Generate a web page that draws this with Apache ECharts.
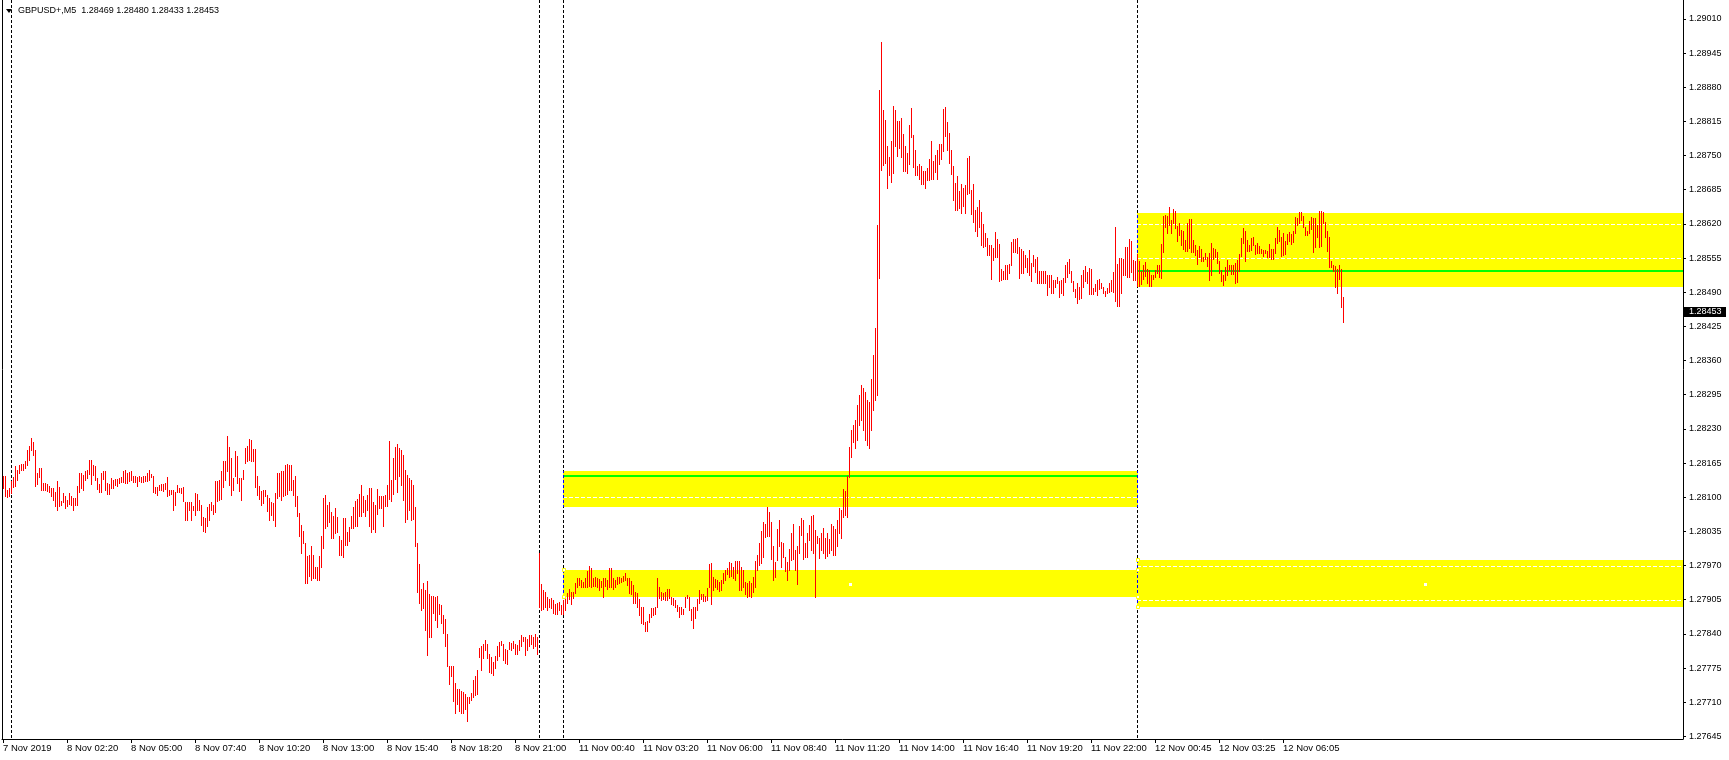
<!DOCTYPE html>
<html><head><meta charset="utf-8">
<script src="https://cdn.jsdelivr.net/npm/echarts@6/dist/echarts.min.js"></script>
<style>html,body{margin:0;padding:0;background:#fff;}#c{width:1729px;height:760px;}</style>
</head><body><div id="c"></div>
<script>
const symbolTitle = 'GBPUSD+,M5';
const lastBarOHLC = ['1.28469', '1.28480', '1.28433', '1.28453'];
const lastPrice = 1.28453;

const highs = [
1.28141,1.28141,1.28114,1.28118,1.28131,1.28138,1.28159,1.28151,1.28162,1.28164,
1.28164,1.28168,1.28190,1.28198,1.28213,1.28206,1.28190,1.28146,1.28156,1.28155,
1.28128,1.28128,1.28126,1.28122,1.28118,1.28118,1.28109,1.28131,1.28120,1.28093,
1.28108,1.28103,1.28095,1.28108,1.28103,1.28099,1.28098,1.28122,1.28147,1.28147,
1.28142,1.28149,1.28152,1.28170,1.28171,1.28162,1.28159,1.28137,1.28126,1.28147,
1.28149,1.28149,1.28127,1.28126,1.28137,1.28133,1.28135,1.28135,1.28137,1.28138,
1.28149,1.28152,1.28147,1.28148,1.28150,1.28140,1.28140,1.28138,1.28141,1.28138,
1.28140,1.28141,1.28146,1.28151,1.28145,1.28140,1.28119,1.28119,1.28123,1.28126,
1.28126,1.28128,1.28139,1.28114,1.28114,1.28114,1.28110,1.28123,1.28118,1.28118,
1.28120,1.28091,1.28091,1.28091,1.28091,1.28084,1.28108,1.28107,1.28094,1.28085,
1.28062,1.28061,1.28081,1.28088,1.28091,1.28086,1.28130,1.28131,1.28133,1.28149,
1.28169,1.28169,1.28217,1.28195,1.28175,1.28137,1.28187,1.28178,1.28136,1.28137,
1.28152,1.28194,1.28197,1.28211,1.28208,1.28192,1.28192,1.28140,1.28122,1.28112,
1.28113,1.28114,1.28105,1.28098,1.28090,1.28089,1.28108,1.28147,1.28146,1.28149,
1.28150,1.28162,1.28164,1.28162,1.28162,1.28132,1.28140,1.28103,1.28070,1.28047,
1.28036,1.28013,1.27989,1.27990,1.28008,1.27991,1.27968,1.27968,1.27989,1.28026,
1.28099,1.28105,1.28085,1.28091,1.28071,1.28064,1.28080,1.28062,1.28026,1.28019,
1.28060,1.28060,1.28034,1.28043,1.28064,1.28081,1.28093,1.28097,1.28107,1.28124,
1.28102,1.28094,1.28104,1.28117,1.28117,1.28091,1.28086,1.28116,1.28102,1.28103,
1.28103,1.28104,1.28123,1.28207,1.28133,1.28175,1.28195,1.28202,1.28194,1.28190,
1.28181,1.28152,1.28143,1.28137,1.28133,1.28124,1.28081,1.28013,1.27972,1.27925,
1.27936,1.27924,1.27940,1.27915,1.27913,1.27913,1.27911,1.27913,1.27897,1.27894,
1.27875,1.27868,1.27839,1.27778,1.27778,1.27778,1.27747,1.27736,1.27735,1.27731,
1.27729,1.27726,1.27719,1.27720,1.27728,1.27753,1.27759,1.27772,1.27814,1.27816,
1.27821,1.27829,1.27821,1.27802,1.27796,1.27786,1.27797,1.27816,1.27824,1.27826,
1.27820,1.27811,1.27810,1.27824,1.27823,1.27826,1.27820,1.27818,1.27828,1.27837,
1.27835,1.27834,1.27830,1.27837,1.27837,1.27834,1.27840,1.27835,1.27993,1.27934,
1.27924,1.27919,1.27910,1.27906,1.27908,1.27904,1.27897,1.27899,1.27900,1.27894,
1.27905,1.27911,1.27918,1.27925,1.27919,1.27920,1.27937,1.27946,1.27947,1.27943,
1.27938,1.27946,1.27960,1.27970,1.27965,1.27947,1.27948,1.27946,1.27944,1.27941,
1.27947,1.27946,1.27943,1.27965,1.27965,1.27946,1.27943,1.27948,1.27949,1.27947,
1.27951,1.27955,1.27946,1.27946,1.27941,1.27933,1.27919,1.27918,1.27906,1.27892,
1.27891,1.27863,1.27864,1.27878,1.27889,1.27890,1.27892,1.27946,1.27929,1.27919,
1.27918,1.27919,1.27925,1.27925,1.27910,1.27909,1.27905,1.27895,1.27892,1.27892,
1.27887,1.27911,1.27914,1.27910,1.27888,1.27892,1.27891,1.27906,1.27924,1.27916,
1.27915,1.27913,1.27927,1.27972,1.27974,1.27948,1.27944,1.27943,1.27939,1.27943,
1.27956,1.27962,1.27965,1.27976,1.27974,1.27968,1.27979,1.27979,1.27979,1.27967,
1.27962,1.27939,1.27937,1.27941,1.27937,1.27949,1.27979,1.27991,1.28012,1.28036,
1.28053,1.28050,1.28081,1.28072,1.28052,1.28008,1.27977,1.28039,1.28057,1.28015,
1.28013,1.27987,1.27977,1.28001,1.28032,1.28050,1.27999,1.28007,1.28045,1.28060,
1.28056,1.28013,1.28031,1.28047,1.28065,1.28066,1.28038,1.28027,1.28022,1.28032,
1.28042,1.28022,1.28032,1.28020,1.28050,1.28045,1.28039,1.28057,1.28080,1.28076,
1.28116,1.28111,1.28141,1.28196,1.28228,1.28238,1.28247,1.28276,1.28295,1.28314,
1.28308,1.28301,1.28285,1.28282,1.28324,1.28371,1.28422,1.28618,1.28875,1.28967,
1.28837,1.28818,1.28768,1.28748,1.28778,1.28845,1.28837,1.28816,1.28816,1.28822,
1.28791,1.28768,1.28755,1.28808,1.28841,1.28789,1.28761,1.28730,1.28734,1.28730,
1.28721,1.28721,1.28727,1.28744,1.28778,1.28740,1.28751,1.28761,1.28772,1.28772,
1.28839,1.28843,1.28814,1.28793,1.28761,1.28730,1.28698,1.28711,1.28683,1.28696,
1.28689,1.28694,1.28746,1.28749,1.28685,1.28696,1.28647,1.28652,1.28666,1.28643,
1.28620,1.28603,1.28594,1.28580,1.28580,1.28575,1.28605,1.28592,1.28582,1.28535,
1.28531,1.28542,1.28542,1.28544,1.28586,1.28592,1.28592,1.28594,1.28576,1.28573,
1.28569,1.28561,1.28556,1.28571,1.28546,1.28561,1.28554,1.28557,1.28531,1.28531,
1.28531,1.28531,1.28523,1.28523,1.28523,1.28514,1.28514,1.28519,1.28512,1.28514,
1.28517,1.28542,1.28548,1.28554,1.28531,1.28512,1.28497,1.28508,1.28500,1.28523,
1.28533,1.28540,1.28529,1.28536,1.28535,1.28498,1.28506,1.28514,1.28516,1.28508,
1.28500,1.28493,1.28498,1.28507,1.28514,1.28529,1.28614,1.28544,1.28556,1.28556,
1.28554,1.28576,1.28576,1.28592,1.28588,1.28552,1.28550,1.28563,1.28550,1.28531,
1.28542,1.28548,1.28535,1.28533,1.28523,1.28523,1.28533,1.28542,1.28542,1.28582,
1.28635,1.28637,1.28635,1.28652,1.28628,1.28649,1.28645,1.28616,1.28622,1.28609,
1.28607,1.28590,1.28622,1.28630,1.28630,1.28590,1.28580,1.28571,1.28578,1.28573,
1.28557,1.28565,1.28557,1.28565,1.28584,1.28575,1.28573,1.28567,1.28550,1.28533,
1.28523,1.28538,1.28552,1.28542,1.28542,1.28542,1.28546,1.28552,1.28563,1.28594,
1.28613,1.28607,1.28590,1.28580,1.28594,1.28595,1.28580,1.28584,1.28578,1.28573,
1.28571,1.28571,1.28569,1.28582,1.28573,1.28573,1.28594,1.28614,1.28609,1.28595,
1.28603,1.28588,1.28601,1.28605,1.28601,1.28607,1.28633,1.28632,1.28643,1.28643,
1.28635,1.28614,1.28607,1.28626,1.28633,1.28632,1.28632,1.28618,1.28645,1.28645,
1.28643,1.28624,1.28607,1.28595,1.28550,1.28542,1.28540,1.28535,1.28542,1.28535,
1.28480];

const lows = [
1.28117,1.28102,1.28100,1.28102,1.28108,1.28119,1.28122,1.28133,1.28146,1.28151,
1.28152,1.28155,1.28162,1.28170,1.28190,1.28181,1.28122,1.28126,1.28138,1.28114,
1.28113,1.28114,1.28112,1.28109,1.28103,1.28095,1.28084,1.28075,1.28084,1.28085,
1.28090,1.28079,1.28084,1.28088,1.28086,1.28076,1.28085,1.28085,1.28110,1.28118,
1.28114,1.28133,1.28137,1.28145,1.28126,1.28142,1.28133,1.28116,1.28110,1.28110,
1.28135,1.28114,1.28107,1.28107,1.28118,1.28118,1.28123,1.28122,1.28127,1.28129,
1.28129,1.28128,1.28128,1.28130,1.28133,1.28129,1.28129,1.28121,1.28131,1.28129,
1.28129,1.28131,1.28131,1.28133,1.28138,1.28109,1.28108,1.28105,1.28113,1.28114,
1.28111,1.28116,1.28102,1.28105,1.28107,1.28076,1.28086,1.28109,1.28109,1.28108,
1.28093,1.28056,1.28057,1.28076,1.28056,1.28076,1.28067,1.28076,1.28075,1.28048,
1.28036,1.28034,1.28045,1.28056,1.28076,1.28069,1.28072,1.28092,1.28095,1.28097,
1.28119,1.28132,1.28149,1.28124,1.28105,1.28114,1.28140,1.28127,1.28112,1.28094,
1.28135,1.28165,1.28168,1.28170,1.28168,1.28168,1.28119,1.28105,1.28097,1.28086,
1.28089,1.28102,1.28074,1.28056,1.28066,1.28057,1.28046,1.28098,1.28103,1.28095,
1.28103,1.28104,1.28107,1.28114,1.28113,1.28104,1.28084,1.28064,1.28027,1.27993,
1.28013,1.27937,1.27937,1.27951,1.27943,1.27946,1.27946,1.27943,1.27942,1.27968,
1.28004,1.28041,1.28046,1.28053,1.28022,1.28022,1.28032,1.28033,1.27990,1.27991,
1.27987,1.28010,1.28009,1.28017,1.28041,1.28041,1.28045,1.28045,1.28065,1.28064,
1.28071,1.28064,1.28076,1.28045,1.28034,1.28039,1.28034,1.28069,1.28079,1.28080,
1.28046,1.28083,1.28083,1.28097,1.28093,1.28107,1.28135,1.28109,1.28141,1.28124,
1.28095,1.28052,1.28059,1.28076,1.28057,1.28059,1.28007,1.27919,1.27899,1.27886,
1.27889,1.27847,1.27800,1.27834,1.27835,1.27880,1.27866,1.27854,1.27877,1.27861,
1.27842,1.27816,1.27778,1.27745,1.27759,1.27712,1.27690,1.27707,1.27693,1.27690,
1.27690,1.27697,1.27674,1.27709,1.27715,1.27720,1.27724,1.27726,1.27796,1.27772,
1.27794,1.27810,1.27794,1.27767,1.27766,1.27762,1.27775,1.27791,1.27797,1.27818,
1.27791,1.27785,1.27783,1.27811,1.27810,1.27813,1.27802,1.27802,1.27810,1.27816,
1.27826,1.27800,1.27810,1.27816,1.27820,1.27813,1.27816,1.27802,1.27892,1.27886,
1.27887,1.27892,1.27886,1.27891,1.27889,1.27880,1.27878,1.27877,1.27886,1.27877,
1.27877,1.27886,1.27899,1.27906,1.27896,1.27908,1.27918,1.27929,1.27933,1.27930,
1.27929,1.27929,1.27930,1.27932,1.27930,1.27932,1.27932,1.27929,1.27924,1.27929,
1.27911,1.27932,1.27925,1.27930,1.27929,1.27925,1.27929,1.27934,1.27937,1.27938,
1.27940,1.27942,1.27933,1.27918,1.27915,1.27899,1.27899,1.27891,1.27876,1.27861,
1.27859,1.27845,1.27845,1.27863,1.27873,1.27876,1.27877,1.27892,1.27908,1.27905,
1.27906,1.27905,1.27905,1.27908,1.27897,1.27894,1.27891,1.27883,1.27873,1.27877,
1.27877,1.27891,1.27908,1.27886,1.27867,1.27851,1.27870,1.27886,1.27899,1.27906,
1.27902,1.27903,1.27905,1.27930,1.27897,1.27924,1.27929,1.27925,1.27921,1.27924,
1.27937,1.27943,1.27953,1.27949,1.27951,1.27946,1.27943,1.27956,1.27924,1.27923,
1.27929,1.27916,1.27910,1.27913,1.27911,1.27920,1.27929,1.27962,1.27971,1.27975,
1.27986,1.28024,1.28026,1.28026,1.27982,1.27942,1.27948,1.27980,1.28007,1.27968,
1.27987,1.27960,1.27942,1.27962,1.27981,1.27982,1.27962,1.27934,1.27994,1.28029,
1.27982,1.27987,1.27987,1.28019,1.27999,1.27994,1.27910,1.28013,1.27984,1.28000,
1.27994,1.27984,1.27989,1.27994,1.28000,1.27991,1.27991,1.28007,1.28032,1.28023,
1.28063,1.28067,1.28063,1.28139,1.28177,1.28206,1.28194,1.28209,1.28238,1.28247,
1.28228,1.28209,1.28200,1.28194,1.28228,1.28266,1.28285,1.28295,1.28517,1.28723,
1.28732,1.28736,1.28689,1.28713,1.28700,1.28717,1.28768,1.28749,1.28765,1.28748,
1.28721,1.28721,1.28717,1.28734,1.28786,1.28729,1.28713,1.28713,1.28706,1.28696,
1.28696,1.28689,1.28704,1.28704,1.28706,1.28706,1.28719,1.28706,1.28734,1.28744,
1.28759,1.28788,1.28761,1.28736,1.28715,1.28666,1.28647,1.28647,1.28651,1.28641,
1.28654,1.28641,1.28677,1.28679,1.28639,1.28624,1.28607,1.28597,1.28614,1.28580,
1.28576,1.28578,1.28561,1.28561,1.28516,1.28552,1.28557,1.28557,1.28512,1.28514,
1.28516,1.28516,1.28516,1.28527,1.28542,1.28567,1.28567,1.28565,1.28517,1.28527,
1.28527,1.28538,1.28529,1.28523,1.28512,1.28540,1.28529,1.28508,1.28508,1.28508,
1.28508,1.28508,1.28485,1.28500,1.28489,1.28489,1.28500,1.28508,1.28481,1.28489,
1.28485,1.28510,1.28519,1.28527,1.28510,1.28493,1.28481,1.28470,1.28478,1.28479,
1.28500,1.28512,1.28508,1.28487,1.28487,1.28487,1.28493,1.28485,1.28497,1.28498,
1.28489,1.28482,1.28488,1.28490,1.28493,1.28491,1.28474,1.28464,1.28464,1.28489,
1.28523,1.28523,1.28519,1.28519,1.28529,1.28514,1.28514,1.28502,1.28502,1.28506,
1.28516,1.28521,1.28508,1.28502,1.28502,1.28516,1.28519,1.28527,1.28519,1.28517,
1.28567,1.28614,1.28603,1.28618,1.28603,1.28622,1.28613,1.28588,1.28599,1.28580,
1.28573,1.28569,1.28569,1.28575,1.28567,1.28567,1.28561,1.28544,1.28557,1.28550,
1.28550,1.28554,1.28540,1.28514,1.28523,1.28554,1.28557,1.28546,1.28527,1.28512,
1.28504,1.28514,1.28523,1.28533,1.28525,1.28525,1.28508,1.28510,1.28531,1.28559,
1.28584,1.28550,1.28569,1.28569,1.28571,1.28580,1.28563,1.28565,1.28565,1.28565,
1.28559,1.28565,1.28557,1.28557,1.28554,1.28554,1.28565,1.28584,1.28588,1.28559,
1.28561,1.28563,1.28582,1.28588,1.28582,1.28586,1.28603,1.28618,1.28622,1.28628,
1.28614,1.28599,1.28599,1.28603,1.28611,1.28567,1.28576,1.28595,1.28576,1.28578,
1.28622,1.28595,1.28569,1.28538,1.28538,1.28531,1.28500,1.28489,1.28516,1.28462,
1.28433];

// time axis: bar index of each tick and its label
const timeTickBars = [0,32,64,96,128,160,192,224,256,288,320,352,384,416,448,480,512,544,576,608,640];
const timeTickLabels = ['7 Nov 2019','8 Nov 02:20','8 Nov 05:00','8 Nov 07:40','8 Nov 10:20','8 Nov 13:00',
  '8 Nov 15:40','8 Nov 18:20','8 Nov 21:00','11 Nov 00:40','11 Nov 03:20','11 Nov 06:00','11 Nov 08:40',
  '11 Nov 11:20','11 Nov 14:00','11 Nov 16:40','11 Nov 19:20','11 Nov 22:00','12 Nov 00:45','12 Nov 03:25','12 Nov 06:05'];
// price axis ticks
const priceTicks = [1.27645,1.27710,1.27775,1.27840,1.27905,1.27970,1.28035,1.28100,1.28165,1.28230,1.28295,
  1.28360,1.28425,1.28490,1.28555,1.28620,1.28685,1.28750,1.28815,1.28880,1.28945,1.29010];
// day separators (bar index)
const separatorBars = [4, 268, 280, 567];
// yellow zones (bar index range and price range)
const zoneStart = [280, 280, 567, 567];
const zoneEnd   = [567, 567, 855, 900];
const zoneHigh  = [1.28150, 1.27962, 1.27981, 1.28641];
const zoneLow   = [1.28081, 1.27911, 1.27892, 1.28500];
const selectedZones = [1, 2];
// green level lines
const levelStart = [280, 567];
const levelEnd   = [567, 900];
const levelPrice = [1.28141, 1.28531];

const FONT = "'Liberation Sans', Arial, sans-serif";
const X_MIN = -0.5, X_MAX = 840;
const Y_MIN = 1.27640, Y_MAX = 1.29046;
const BAR_COLOR = '#ff0000';

const labelOf = {};
timeTickBars.forEach((b, k) => { labelOf[b] = timeTickLabels[k]; });

const chart = echarts.init(document.getElementById('c'), null, {renderer: 'canvas'});

function renderBar(params, api) {
  const i = api.value(0);
  const pt = api.coord([i, api.value(1)]);
  const pb = api.coord([i, api.value(2)]);
  const x = Math.floor(pt[0]);
  const y1 = Math.round(pt[1]);
  const y2 = Math.round(pb[1]);
  return {type: 'rect', shape: {x: x, y: y1, width: 1, height: Math.max(1, y2 - y1 + 1)}, style: {fill: BAR_COLOR}};
}

function renderZone(params, api) {
  const s = api.value(0), e = api.value(1), hi = api.value(2), lo = api.value(3);
  const p1 = api.coord([s, hi]), p2 = api.coord([e, lo]);
  const x1 = Math.floor(p1[0]), x2 = Math.floor(p2[0]) + 1;
  const y1 = Math.round(p1[1]), y2 = Math.round(p2[1]);
  const children = [{type: 'rect', shape: {x: x1, y: y1, width: x2 - x1, height: y2 - y1}, style: {fill: '#ffff00'}}];
  priceTicks.forEach(t => {
    if (t < hi && t > lo) {
      const y = Math.round(api.coord([s, t])[1]) + 0.5;
      children.push({type: 'line', shape: {x1: x1, y1: y, x2: x2, y2: y}, style: {stroke: '#ffffff', lineWidth: 1, lineDash: [4, 2]}});
    }
  });
  return {type: 'group', children: children};
}

function renderLevel(params, api) {
  const s = api.value(0), e = api.value(1), p = api.value(2);
  const a = api.coord([s, p]), b = api.coord([e, p]);
  const y = Math.round(a[1]) - 1;
  return {type: 'rect', shape: {x: Math.floor(a[0]), y: y, width: Math.floor(b[0]) - Math.floor(a[0]) + 1, height: 2}, style: {fill: '#00ff00'}};
}

function renderSep(params, api) {
  const b = api.value(0);
  const cs = params.coordSys;
  const x = Math.floor(api.coord([b, Y_MAX])[0]) + 0.5;
  const top = cs.y, bot = cs.y + cs.height;
  const spans = [];
  zoneStart.forEach((s, k) => {
    if (b >= s && b <= zoneEnd[k]) {
      spans.push([Math.round(api.coord([b, zoneHigh[k]])[1]), Math.round(api.coord([b, zoneLow[k]])[1])]);
    }
  });
  spans.sort((a, c) => a[0] - c[0]);
  const children = [];
  let cur = top;
  const seg = (y1, y2, color) => {
    if (y2 > y1) children.push({type: 'line', shape: {x1: x, y1: y1, x2: x, y2: y2},
      style: {stroke: color, lineWidth: 1, lineDash: [3, 2], lineDashOffset: y1 - top}});
  };
  spans.forEach(sp => {
    if (sp[1] <= cur) return;
    seg(cur, sp[0], '#000000');
    seg(Math.max(sp[0], cur), sp[1], '#0000ff');
    cur = sp[1];
  });
  seg(cur, bot, '#000000');
  return {type: 'group', children: children};
}

function renderHandles(params, api) {
  const s = api.value(0), e = api.value(1), hi = api.value(2), lo = api.value(3);
  const p1 = api.coord([s, hi]), p2 = api.coord([e, lo]);
  const x1 = Math.floor(p1[0]), x2 = Math.floor(p2[0]);
  const y1 = Math.round(p1[1]), y2 = Math.round(p2[1]);
  const sq = (x, y) => ({type: 'rect', shape: {x: x - 1.5, y: y - 1.5, width: 3, height: 3}, style: {fill: '#ffffff', stroke: '#ffff00', lineWidth: 1}});
  const cx = Math.round((x1 + x2) / 2), cy = Math.round((y1 + y2) / 2);
  return {type: 'group', children: [
    sq(x1 + 1, y1), sq(x1 + 1, y2), sq(x2 + 1, y1), sq(x2 + 1, y2),
    {type: 'rect', shape: {x: cx - 1, y: cy - 1, width: 3, height: 3}, style: {fill: '#ffffff'}}
  ]};
}

const axisText = {fontFamily: FONT, color: '#000000'};

chart.setOption({
  animation: false,
  backgroundColor: '#ffffff',
  grid: {left: 2, right: 46, top: 0, bottom: 21, show: false},
  xAxis: {
    type: 'value', min: X_MIN, max: X_MAX,
    axisLine: {show: true, onZero: false, lineStyle: {color: '#000000', width: 1}},
    axisTick: {show: true, customValues: timeTickBars, length: 4, lineStyle: {color: '#000000'}},
    axisLabel: Object.assign({show: true, customValues: timeTickBars, formatter: v => labelOf[Math.round(v)] || '',
      align: 'left', margin: 4, fontSize: 9.5}, axisText),
    splitLine: {show: false}
  },
  yAxis: [{
    type: 'value', position: 'right', min: Y_MIN, max: Y_MAX,
    axisLine: {show: true, onZero: false, lineStyle: {color: '#000000', width: 1}},
    axisTick: {show: true, customValues: priceTicks, length: 3, lineStyle: {color: '#000000'}},
    axisLabel: Object.assign({show: true, customValues: priceTicks, formatter: v => v.toFixed(5), margin: 6, fontSize: 9}, axisText),
    splitLine: {show: false}
  }, {
    type: 'value', position: 'left', min: Y_MIN, max: Y_MAX,
    axisLine: {show: true, onZero: false, lineStyle: {color: '#000000', width: 1}},
    axisTick: {show: false}, axisLabel: {show: false}, splitLine: {show: false}
  }],
  series: [
    {type: 'custom', name: 'zones', renderItem: renderZone, clip: true, silent: true,
      encode: {x: [0, 1], y: [2, 3]},
      data: zoneStart.map((s, k) => [s, zoneEnd[k], zoneHigh[k], zoneLow[k]]), z: 1},
    {type: 'custom', name: 'levels', renderItem: renderLevel, clip: true, silent: true,
      encode: {x: [0, 1], y: 2},
      data: levelStart.map((s, k) => [s, levelEnd[k], levelPrice[k]]), z: 2},
    {type: 'custom', name: 'separators', renderItem: renderSep, clip: true, silent: true,
      encode: {x: 0},
      data: separatorBars.map(b => [b]), z: 3},
    {type: 'custom', name: 'bars', renderItem: renderBar, clip: true, silent: true,
      encode: {x: 0, y: [1, 2]},
      data: highs.map((h, i) => [i, h, lows[i]]), z: 4},
    {type: 'custom', name: 'handles', renderItem: renderHandles, clip: true, silent: true,
      encode: {x: [0, 1], y: [2, 3]},
      data: selectedZones.map(k => [zoneStart[k], zoneEnd[k], zoneHigh[k], zoneLow[k]]), z: 5}
  ]
});

const yLast = chart.convertToPixel({yAxisIndex: 0}, lastPrice);
const axisX = chart.convertToPixel({xAxisIndex: 0}, X_MAX);
chart.setOption({
  graphic: [
    {type: 'polygon', shape: {points: [[6, 9], [12, 9], [9, 13]]}, style: {fill: '#000000'}},
    {type: 'text', x: 18, y: 10.5, style: {text: symbolTitle + '  ' + lastBarOHLC.join(' '),
      font: '9px ' + FONT, fill: '#000000', verticalAlign: 'middle', align: 'left'}},
    {type: 'rect', shape: {x: Math.round(axisX) + 1, y: Math.round(yLast) - 5, width: 42, height: 10}, style: {fill: '#000000'}},
    {type: 'text', x: Math.round(axisX) + 6, y: Math.round(yLast), style: {text: lastPrice.toFixed(5),
      font: '9px ' + FONT, fill: '#ffffff', verticalAlign: 'middle', align: 'left'}}
  ]
});
</script>
</body></html>
